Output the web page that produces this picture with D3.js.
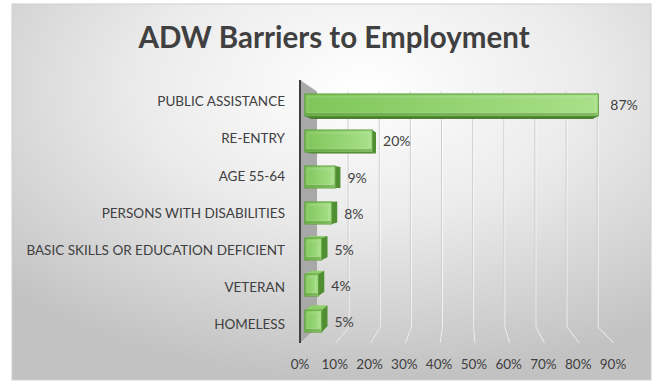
<!DOCTYPE html>
<html>
<head>
<meta charset="utf-8">
<script src="https://cdn.jsdelivr.net/npm/d3@7"></script>
<style>
  html, body { margin: 0; padding: 0; background: #ffffff; }
  svg { display: block; }
  text { font-family: Lato, "Open Sans", sans-serif; }
</style>
</head>
<body>
<svg id="chart" width="658" height="388"></svg>
<script>
// Barrier categories, top to bottom
const categories = [
  "PUBLIC ASSISTANCE",
  "RE-ENTRY",
  "AGE 55-64",
  "PERSONS WITH DISABILITIES",
  "BASIC SKILLS OR EDUCATION DEFICIENT",
  "VETERAN",
  "HOMELESS"
];
// Share of participants with each barrier (%)
const values = [87, 20, 9, 8, 5, 4, 5];
// Value-axis ticks (%)
const ticks = [0, 10, 20, 30, 40, 50, 60, 70, 80, 90];
const title = "ADW Barriers to Employment";

const svg = d3.select("#chart");
const defs = svg.append("defs");

// ---- perspective helpers -------------------------------------------
// Coordinates are laid out on the front plane, then pulled toward a
// vanishing point by a depth factor (1 = front, smaller = deeper).
const VP = { x: 462, y: 190 };
const proj = (xf, yf, s) => [VP.x + (xf - VP.x) * s, VP.y + (yf - VP.y) * s];
const WALL_S = 0.895;   // back wall depth
const BAR_FRONT = 0.97; // bar front face depth
const BAR_BACK = 0.93;  // bar back face depth

const x = d3.scaleLinear().domain([0, 90]).range([300, 613]);
const y = d3.scaleBand().domain(categories).range([91, 336.5]).paddingInner(0.39);
const plotTop = 80, plotBottom = 343;

// ---- background ----------------------------------------------------
const bg = defs.append("radialGradient").attr("id", "bgGrad")
  .attr("cx", "55%").attr("cy", "22%").attr("r", "78%")
  .attr("fx", "55%").attr("fy", "22%");
bg.append("stop").attr("offset", "0").attr("stop-color", "#ffffff");
bg.append("stop").attr("offset", "0.45").attr("stop-color", "#ebebeb");
bg.append("stop").attr("offset", "1").attr("stop-color", "#c2c2c2");

svg.append("rect")
  .attr("x", 12).attr("y", 4).attr("width", 639).attr("height", 376)
  .attr("fill", "url(#bgGrad)")
  .attr("stroke", "#cfcfcf").attr("stroke-width", 1);

// ---- title ---------------------------------------------------------
svg.append("text")
  .attr("x", 334).attr("y", 48)
  .attr("text-anchor", "middle")
  .attr("font-size", 29.5).attr("font-weight", 700)
  .attr("fill", "#404040")
  .text(title);

// ---- gridlines on back wall + floor ------------------------------
const grid = svg.append("g").attr("class", "grid");
ticks.slice(1).forEach(t => {
  const top = proj(x(t), plotTop, WALL_S);
  const bb = proj(x(t), plotBottom, WALL_S);
  const fb = proj(x(t), plotBottom, 1);
  const pts = [top, bb, fb];
  grid.append("polyline")
    .attr("points", pts.map(p => [p[0] + 1, p[1]].join(",")).join(" "))
    .attr("fill", "none").attr("stroke", "#ffffff").attr("stroke-width", 1).attr("opacity", 0.7);
  grid.append("polyline")
    .attr("points", pts.map(p => p.join(",")).join(" "))
    .attr("fill", "none").attr("stroke", "#cfcfcf").attr("stroke-width", 1);
});

// ---- left side wall ------------------------------------------------
const wall = [
  proj(x(0), plotTop, 1), proj(x(0), plotTop, WALL_S),
  proj(x(0), plotBottom, WALL_S), proj(x(0), plotBottom, 1)
];
svg.append("polygon")
  .attr("points", wall.map(p => p.join(",")).join(" "))
  .attr("fill", "#a8a8a8");

svg.append("line")
  .attr("x1", x(0)).attr("x2", x(0))
  .attr("y1", plotTop).attr("y2", plotBottom)
  .attr("stroke", "#3f3f3f").attr("stroke-width", 2);

// ---- bars ----------------------------------------------------------
const frontGrad = defs.append("linearGradient").attr("id", "barFront")
  .attr("x1", 0).attr("y1", 0).attr("x2", 1).attr("y2", 0);
frontGrad.append("stop").attr("offset", "0").attr("stop-color", "#7fc65a");
frontGrad.append("stop").attr("offset", "1").attr("stop-color", "#a9e08a");

const poly = (g, pts, fill) => g.append("polygon")
  .attr("points", pts.map(p => p.join(",")).join(" "))
  .attr("fill", fill);

const bars = svg.append("g").attr("class", "bars");
categories.forEach((c, i) => {
  const v = values[i];
  const x0 = x(0), x1 = x(v);
  const y0 = y(c), y1 = y(c) + y.bandwidth();
  const g = bars.append("g");

  const fTL = proj(x0, y0, BAR_FRONT), fTR = proj(x1, y0, BAR_FRONT);
  const fBL = proj(x0, y1, BAR_FRONT), fBR = proj(x1, y1, BAR_FRONT);
  const bTL = proj(x0, y0, BAR_BACK), bTR = proj(x1, y0, BAR_BACK);
  const bBL = proj(x0, y1, BAR_BACK), bBR = proj(x1, y1, BAR_BACK);

  // top or bottom face, whichever faces the eye
  if (y1 < VP.y) poly(g, [fBL, fBR, bBR, bBL], "#4c8030");
  if (y0 > VP.y) poly(g, [fTL, fTR, bTR, bTL], "#8fd06c");
  // right end face
  if (x1 < VP.x) poly(g, [fTR, bTR, bBR, fBR], "#4f8f31");

  // front face with a soft bevel
  g.append("rect")
    .attr("x", fTL[0]).attr("y", fTL[1])
    .attr("width", fTR[0] - fTL[0]).attr("height", fBL[1] - fTL[1])
    .attr("fill", "url(#barFront)")
    .attr("stroke", "#5c9c3c").attr("stroke-width", 1);
  const inset = 3;
  if (fTR[0] - fTL[0] > 2 * inset + 2) {
    g.append("rect")
      .attr("x", fTL[0] + inset).attr("y", fTL[1] + inset)
      .attr("width", fTR[0] - fTL[0] - 2 * inset).attr("height", fBL[1] - fTL[1] - 2 * inset)
      .attr("fill", "none").attr("stroke", "#ffffff").attr("stroke-opacity", 0.18).attr("stroke-width", 1);
  }
  g.append("rect")
    .attr("x", fTL[0] + 1).attr("y", fBL[1] - 3)
    .attr("width", Math.max(0, fTR[0] - fTL[0] - 2)).attr("height", 2)
    .attr("fill", "#4f8a31").attr("opacity", 0.45);

  // value label
  const right = Math.max(fTR[0], x1 < VP.x ? bTR[0] : fTR[0]);
  const cy = (fTL[1] + fBL[1]) / 2;
  svg.append("text")
    .attr("x", right + (x1 < VP.x ? 7 : 12)).attr("y", cy)
    .attr("dominant-baseline", "central")
    .attr("font-size", 14).attr("fill", "#404040")
    .text(v + "%");

  // category label
  svg.append("text")
    .attr("x", 285).attr("y", y(c) + y.bandwidth() / 2 - 1)
    .attr("text-anchor", "end").attr("dominant-baseline", "central")
    .attr("font-size", 13.5).attr("fill", "#404040")
    .text(c);
});

// ---- value axis labels --------------------------------------------
svg.append("g").selectAll("text").data(ticks).join("text")
  .attr("x", d => x(d)).attr("y", 364)
  .attr("text-anchor", "middle").attr("dominant-baseline", "central")
  .attr("font-size", 13.5).attr("fill", "#404040")
  .text(d => d + "%");
</script>
</body>
</html>
